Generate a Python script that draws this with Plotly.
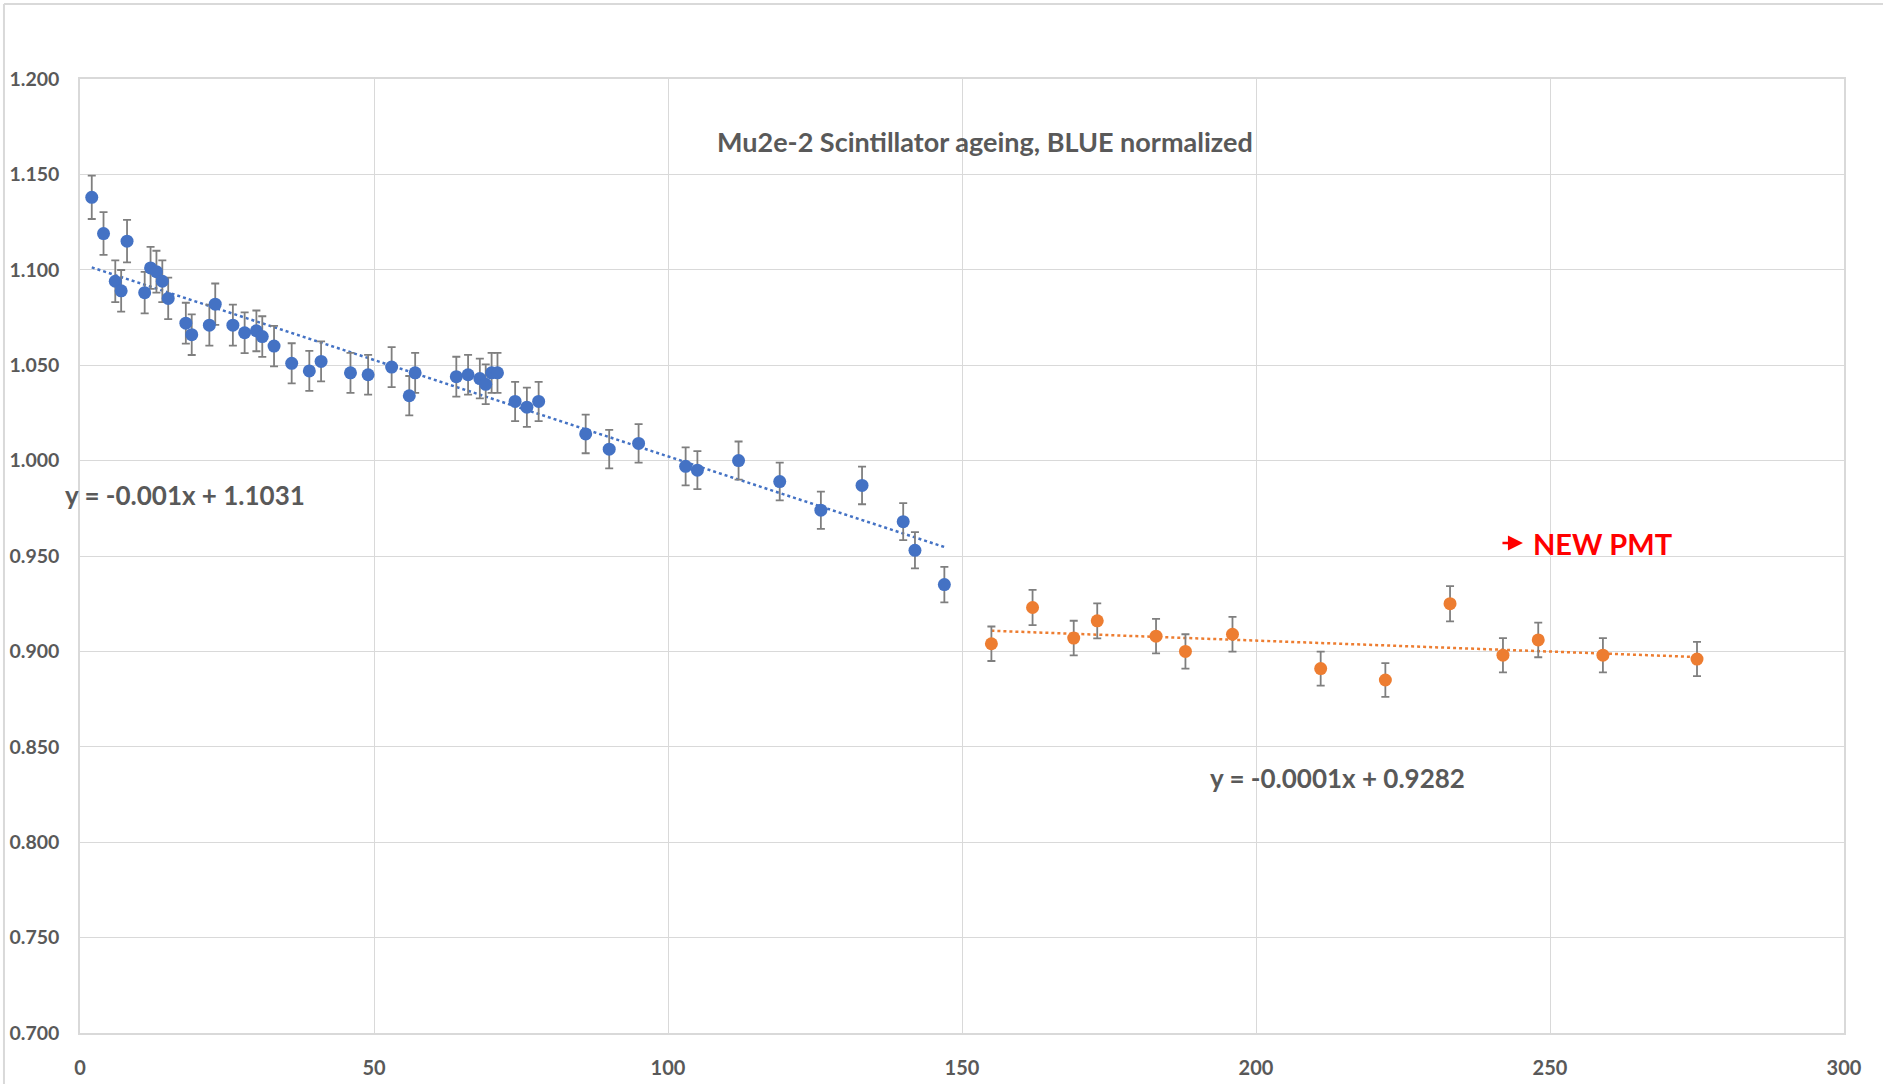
import numpy as np
import plotly.graph_objects as go

# Blue series (old PMT)
blue_x = [2, 4, 6, 7, 8, 11, 12, 13, 14, 15, 18, 19, 22, 23, 26, 28, 30, 31, 33, 36,
          39, 41, 46, 49, 53, 56, 57, 64, 66, 68, 69, 70, 71, 74, 76, 78, 86, 90, 95,
          103, 105, 112, 119, 126, 133, 140, 142, 147]
blue_y = [1.138, 1.119, 1.094, 1.089, 1.115, 1.088, 1.101, 1.099, 1.094, 1.085, 1.072,
          1.066, 1.071, 1.082, 1.071, 1.067, 1.068, 1.065, 1.060, 1.051, 1.047, 1.052,
          1.046, 1.045, 1.049, 1.034, 1.046, 1.044, 1.045, 1.043, 1.040, 1.046, 1.046,
          1.031, 1.028, 1.031, 1.014, 1.006, 1.009, 0.997, 0.995, 1.000, 0.989, 0.974,
          0.987, 0.968, 0.953, 0.935]

# Orange series (new PMT)
orange_x = [155, 162, 169, 173, 183, 188, 196, 211, 222, 233, 242, 248, 259, 275]
orange_y = [0.904, 0.923, 0.907, 0.916, 0.908, 0.900, 0.909, 0.891, 0.885, 0.925,
            0.898, 0.906, 0.898, 0.896]

error_percent = 1.0

title_text = "Mu2e-2 Scintillator ageing, BLUE normalized"
eq_blue = "y = -0.001x + 1.1031"
eq_orange = "y = -0.0001x + 0.9282"
new_pmt = "NEW PMT"

x_ticks = [0, 50, 100, 150, 200, 250, 300]
y_ticks = [0.70, 0.75, 0.80, 0.85, 0.90, 0.95, 1.00, 1.05, 1.10, 1.15, 1.20]

BLUE = "#4472C4"
ORANGE = "#ED7D31"
GRID = "#D9D9D9"
TEXT = "#595959"
FONT = "Lato"

fig = go.Figure()


def add_series(xs, ys, color):
    xs = np.array(xs, dtype=float)
    ys = np.array(ys, dtype=float)
    m, b = np.polyfit(xs, ys, 1)
    tx = np.array([xs.min(), xs.max()])
    fig.add_trace(go.Scatter(
        x=tx, y=m * tx + b, mode="lines",
        line=dict(color=color, width=2.5, dash="dot"),
        hoverinfo="skip", showlegend=False))
    fig.add_trace(go.Scatter(
        x=xs, y=ys, mode="markers",
        marker=dict(color=color, size=13),
        error_y=dict(type="percent", value=error_percent, color="#7F7F7F",
                     thickness=1.8, width=4),
        showlegend=False))


add_series(blue_x, blue_y, BLUE)
add_series(orange_x, orange_y, ORANGE)

ann_font = dict(family=FONT, size=26, color=TEXT, weight="bold")
common = dict(xref="paper", yref="paper", showarrow=False, xanchor="center", yanchor="middle")
fig.add_annotation(text=title_text, x=0.513, y=0.934,
                   font=dict(family=FONT, size=27, color=TEXT, weight="bold"), **common)
fig.add_annotation(text=eq_blue, x=0.0595, y=0.564, font=ann_font, **common)
fig.add_annotation(text=eq_orange, x=0.713, y=0.267, font=ann_font, **common)
fig.add_annotation(text=new_pmt, x=0.863, y=0.5136,
                   font=dict(family=FONT, size=29, color="#FF0000", weight="bold"), **common)
fig.add_annotation(text="", xref="paper", yref="paper", x=0.818, y=0.5136,
                   axref="pixel", ayref="pixel", ax=-22, ay=0.01,
                   showarrow=True, arrowhead=2, arrowsize=1.2,
                   arrowwidth=2.5, arrowcolor="#FF0000")

# chart area border (top and left)
fig.add_shape(type="line", xref="paper", yref="paper", x0=-0.0431, x1=1.03,
              y0=1.0786, y1=1.0786, line=dict(color=GRID, width=2))
fig.add_shape(type="line", xref="paper", yref="paper", x0=-0.0431, x1=-0.0431,
              y0=-0.06, y1=1.0786, line=dict(color=GRID, width=2))

fig.update_layout(
    width=1883, height=1084,
    margin=dict(l=80, r=39, t=79, b=51, autoexpand=False),
    paper_bgcolor="white", plot_bgcolor="white",
    font=dict(family=FONT, color=TEXT),
    showlegend=False,
)
fig.update_xaxes(
    range=[0, 300], tickvals=x_ticks, ticktext=[str(v) for v in x_ticks],
    showgrid=True, gridcolor=GRID, gridwidth=1,
    showline=True, linecolor=GRID, linewidth=1.5, mirror=True,
    zeroline=False, ticks="", ticklabelstandoff=16, automargin=False,
    tickfont=dict(family=FONT, size=20, color=TEXT, weight="bold"),
)
fig.update_yaxes(
    range=[0.7, 1.2], tickvals=y_ticks, ticktext=[f"{v:.3f}" for v in y_ticks],
    showgrid=True, gridcolor=GRID, gridwidth=1,
    showline=True, linecolor=GRID, linewidth=1.5, mirror=True,
    zeroline=False, ticks="", ticklabelstandoff=15, automargin=False,
    tickfont=dict(family=FONT, size=19.5, color=TEXT, weight="bold"),
)

fig.write_html("out.html", config={"displayModeBar": False},
               post_script="document.body.style.margin='0px';document.body.style.overflow='hidden';")
